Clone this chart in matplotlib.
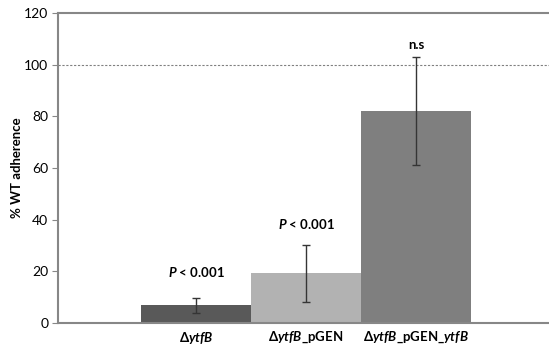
import matplotlib
matplotlib.use("Agg")
from matplotlib import pyplot as plt
import numpy as np

plt.rcParams['font.family'] = ['Lato', 'DejaVu Sans']
plt.rcParams['mathtext.fontset'] = 'custom'
plt.rcParams['mathtext.rm'] = 'Lato'
plt.rcParams['mathtext.bf'] = 'Lato:bold'
plt.rcParams['mathtext.bfit'] = 'Lato:bold:italic'
plt.rcParams['mathtext.it'] = 'Lato:italic'

labels = [r'$\mathbf{Δ}\mathbfit{ytfB}$',
          r'$\mathbf{Δ}\mathbfit{ytfB}\mathbf{\_pGEN}$',
          r'$\mathbf{Δ}\mathbfit{ytfB}\mathbf{\_pGEN\_}\mathbfit{ytfB}$']
values = [6.8, 19.2, 82.0]
errors = [3.0, 11.0, 21.0]
notes = [r'$\mathbfit{P}$' + ' < 0.001', r'$\mathbfit{P}$' + ' < 0.001', 'n.s']
note_y = [19.8, 38.5, 107.5]
colors = ['#595959', '#b2b2b2', '#7f7f7f']

fig = plt.figure(figsize=(5.49, 3.48), dpi=100)
ax = fig.add_axes([0.1056, 0.0718, 0.8944, 0.8908])

x = np.arange(len(values))
ax.bar(x, values, width=1.0, color=colors, zorder=2)
ax.errorbar(x, values, yerr=errors, fmt='none', ecolor='#353535',
            elinewidth=1, capsize=3, capthick=1, zorder=3)
ax.axhline(100, color='#808080', linestyle=(0, (2, 1.5)), linewidth=0.8, zorder=1)

for xi, t, yi in zip(x, notes, note_y):
    ax.text(xi, yi, t, ha='center', va='center', fontsize=9.5, fontweight='bold')

ax.set_xlim(-1.2545, 3.209)
ax.set_ylim(0, 120)
ax.set_yticks(np.arange(0, 121, 20))
ax.set_xticks(x)
ax.set_xticklabels(labels, fontsize=9.5)
ax.tick_params(axis='x', length=0, pad=5)
ax.tick_params(axis='y', length=4, color='#878787', labelsize=10, pad=3)
ax.set_ylabel('% WT adherence', fontsize=9.5, fontweight='bold')
ax.yaxis.set_label_coords(-0.071, 0.5)

for s in ['left', 'top', 'bottom']:
    ax.spines[s].set_color('#878787')
    ax.spines[s].set_linewidth(1.5)
ax.spines['right'].set_visible(False)

fig.savefig('out.png', dpi=100)
